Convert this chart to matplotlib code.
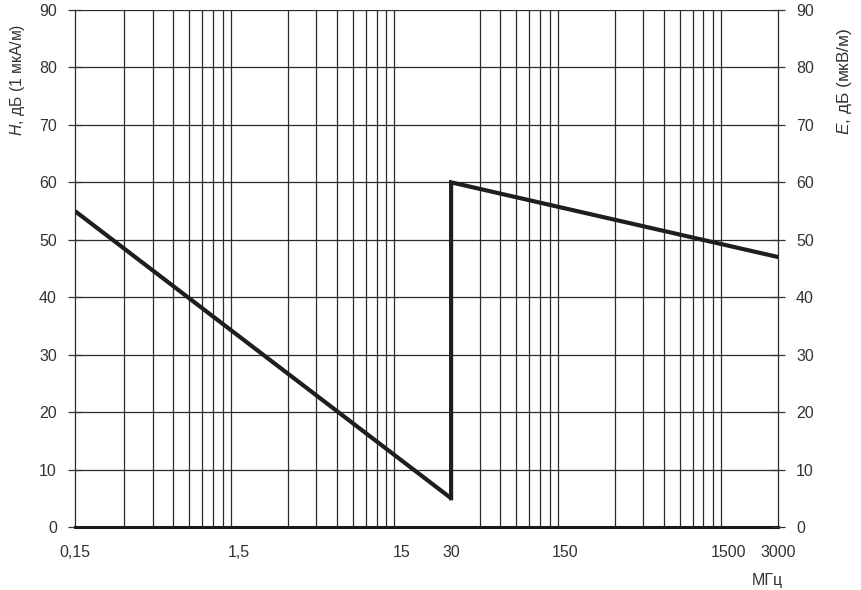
import numpy as np
import matplotlib
matplotlib.use("Agg")
import matplotlib.pyplot as plt
from matplotlib.ticker import FixedLocator, NullFormatter

plt.rcParams['font.family'] = ['Liberation Sans', 'DejaVu Sans']
plt.rcParams['mathtext.fontset'] = 'custom'
plt.rcParams['mathtext.it'] = 'Liberation Sans:italic'
plt.rcParams['mathtext.rm'] = 'Liberation Sans'

# limit curve: H below 30 MHz, E above
freq_h = [0.15, 30]
level_h = [55, 5]
freq_e = [30, 30, 3000]
level_e = [5, 60, 47]

x_ticks = [0.15, 1.5, 15, 30, 150, 1500, 3000]
x_labels = ["0,15", "1,5", "15", "30", "150", "1500", "3000"]
y_ticks = list(range(0, 100, 10))

TEXT = "#333333"
GRID = "#2a2a2a"

fig = plt.figure(figsize=(8.61, 5.90), dpi=100)
ax = fig.add_axes([0.0871, 0.1068, 0.8165, 0.8762])

ax.set_xscale("log")
ax.set_xlim(0.15, 3000)
ax.set_ylim(0, 90)

# grid at 2..9 x 0.15*10^n
minor = [k * 0.15 * 10 ** n for n in range(4) for k in range(2, 10)]
minor = [m for m in minor if m < 3000]
ax.xaxis.set_minor_locator(FixedLocator(minor))
ax.xaxis.set_minor_formatter(NullFormatter())
ax.xaxis.set_major_locator(FixedLocator(x_ticks))
ax.set_xticklabels(x_labels)
ax.set_yticks(y_ticks)

ax.grid(which="minor", axis="x", color=GRID, lw=0.9)
ax.grid(which="major", axis="y", color=GRID, lw=0.9)
ax.tick_params(axis="x", which="both", length=0, pad=13, labelsize=11.5, colors=TEXT)
ax.tick_params(axis="y", direction="inout", length=10, width=0.9, pad=8,
               labelsize=11.5, colors=TEXT)

for s in ["left", "right", "top"]:
    ax.spines[s].set_linewidth(0.9)
    ax.spines[s].set_color(GRID)
ax.spines["top"].set_visible(False)
ax.spines["bottom"].set_linewidth(2.2)
ax.spines["bottom"].set_color("#1a1a1a")

ax2 = ax.twinx()
ax2.set_ylim(0, 90)
ax2.set_yticks(y_ticks)
ax2.tick_params(axis="y", direction="inout", length=10, width=0.9, pad=8,
                labelsize=11.5, colors=TEXT)
for s in ax2.spines.values():
    s.set_visible(False)

ax.plot(freq_h, level_h, color="#1e1e1e", lw=3, solid_capstyle="butt", zorder=5)
ax.plot(freq_e, level_e, color="#1e1e1e", lw=3, solid_joinstyle="miter", zorder=5)

fig.text(18 / 861, 1 - 80 / 590, r"$\it{H}$, дБ (1 мкА/м)", rotation=90,
         ha="center", va="center", fontsize=11.3, color=TEXT)
fig.text(845 / 861, 1 - 81 / 590, r"$\it{E}$, дБ (мкВ/м)", rotation=90,
         ha="center", va="center", fontsize=12.4, color=TEXT)
fig.text(767 / 861, 1 - 580 / 590, "МГц", ha="center", va="center",
         fontsize=11.5, color=TEXT)

fig.savefig("out.png", dpi=100)
